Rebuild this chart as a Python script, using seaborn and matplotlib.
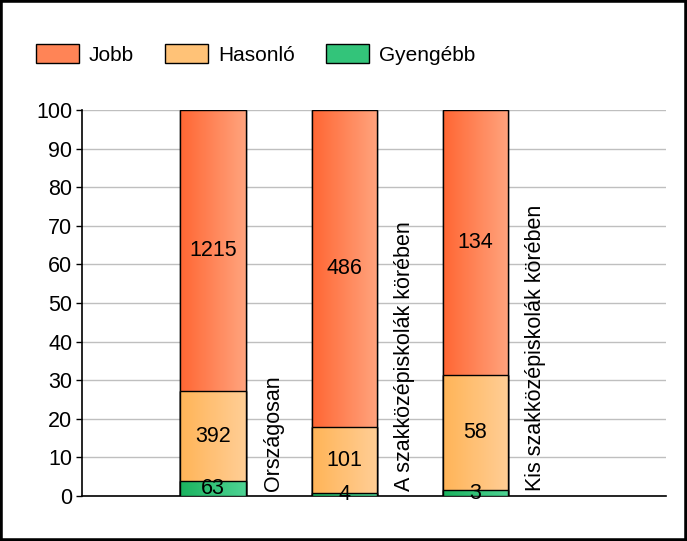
import numpy as np
import pandas as pd
import matplotlib
matplotlib.use("Agg")
import matplotlib.pyplot as plt
import seaborn as sns
from matplotlib.colors import LinearSegmentedColormap
from matplotlib.patches import Rectangle

categories = ["Országosan", "A szakközépiskolák körében", "Kis szakközépiskolák körében"]
series = ["Jobb", "Hasonló", "Gyengébb"]
jobb = [1215, 486, 134]
hasonlo = [392, 101, 58]
gyengebb = [63, 4, 3]
yticks = [0, 10, 20, 30, 40, 50, 60, 70, 80, 90, 100]

colors_left = {"Jobb": "#FF6633", "Hasonló": "#FFB457", "Gyengébb": "#1BB35F"}
colors_right = {"Jobb": "#FFA47E", "Hasonló": "#FFCE96", "Gyengébb": "#4ED394"}
colors_mid = {"Jobb": "#FF8456", "Hasonló": "#FFC277", "Gyengébb": "#33C47A"}

sns.set_theme(style="white")
plt.rcParams["font.family"] = ["Liberation Sans", "DejaVu Sans"]
plt.rcParams["text.color"] = "black"
plt.rcParams["ytick.color"] = "black"
plt.rcParams["ytick.labelcolor"] = "black"

FS = 15.5

df = pd.DataFrame({"cat": categories, "Jobb": jobb, "Hasonló": hasonlo, "Gyengébb": gyengebb})
tot = df[series].sum(axis=1)
pct = df[series].div(tot, axis=0) * 100
df["c_gy"] = pct["Gyengébb"]
df["c_ha"] = pct["Gyengébb"] + pct["Hasonló"]
df["c_jo"] = pct["Gyengébb"] + pct["Hasonló"] + pct["Jobb"]

fig = plt.figure(figsize=(6.87, 5.41), dpi=100)
ax = fig.add_axes([0.1194, 0.0832, 0.969 - 0.1194, 0.7967 - 0.0832])

layers = [("c_jo", "Jobb"), ("c_ha", "Hasonló"), ("c_gy", "Gyengébb")]
for col, name in layers:
    sns.barplot(data=df, x="cat", y=col, ax=ax, color=colors_mid[name], width=0.5,
                edgecolor="black", linewidth=1, saturation=1, errorbar=None, zorder=3)

# gradient overlay on each bar
for i, patch in enumerate(list(ax.patches)):
    li = i // len(categories)
    name = layers[li][1]
    cmap = LinearSegmentedColormap.from_list(name, [colors_left[name], colors_right[name]])
    x0, y0 = patch.get_x(), patch.get_y()
    w, h = patch.get_width(), patch.get_height()
    grad = np.linspace(0, 1, 256).reshape(1, -1)
    im = ax.imshow(grad, cmap=cmap, aspect="auto", extent=[x0, x0 + w, y0, y0 + h],
                   zorder=4 + 0.1 * li)
    im.set_clip_path(patch)
    edge = Rectangle((x0, y0), w, h, fill=False, edgecolor="black", linewidth=1,
                     zorder=4 + 0.1 * li + 0.05)
    ax.add_patch(edge)

# value labels
for i in range(len(categories)):
    g, hs, jb = pct.loc[i, "Gyengébb"], pct.loc[i, "Hasonló"], pct.loc[i, "Jobb"]
    ax.text(i, g / 2, str(gyengebb[i]), ha="center", va="center", fontsize=FS, zorder=10)
    ax.text(i, g + hs / 2, str(hasonlo[i]), ha="center", va="center", fontsize=FS, zorder=10)
    ax.text(i, g + hs + jb / 2, str(jobb[i]), ha="center", va="center", fontsize=FS, zorder=10)
    ax.text(i + 0.46, 1.3, categories[i], rotation=90, ha="center", va="bottom",
            fontsize=FS, zorder=10)

ax.set_xlim(-1.0, 3.45)
ax.set_ylim(0, 100)
ax.set_yticks(yticks)
ax.set_yticklabels([str(t) for t in yticks], fontsize=FS)
ax.set_xticks([])
ax.set_xlabel("")
ax.set_ylabel("")
ax.yaxis.grid(True, color="#BFBFBF", linewidth=1, zorder=0)
ax.set_axisbelow(True)
ax.tick_params(axis="y", direction="out", length=4, width=1, color="black", pad=3, left=True)
for s in ["top", "right"]:
    ax.spines[s].set_visible(False)
for s in ["left", "bottom"]:
    ax.spines[s].set_color("black")
    ax.spines[s].set_linewidth(1.2)

handles = [Rectangle((0, 0), 1, 1, facecolor=colors_mid[s], edgecolor="black", linewidth=1) for s in series]
fig.legend(handles, series, loc="upper left", bbox_to_anchor=(0.052, 0.918), ncol=3,
           frameon=False, fontsize=15, handlelength=2.07, handleheight=1.0,
           handletextpad=0.48, columnspacing=1.5, borderaxespad=0, borderpad=0)

fig.patches.append(Rectangle((0, 0), 1, 1, transform=fig.transFigure, fill=False,
                             edgecolor="black", linewidth=4, zorder=100))

fig.savefig("out.png", dpi=100)
